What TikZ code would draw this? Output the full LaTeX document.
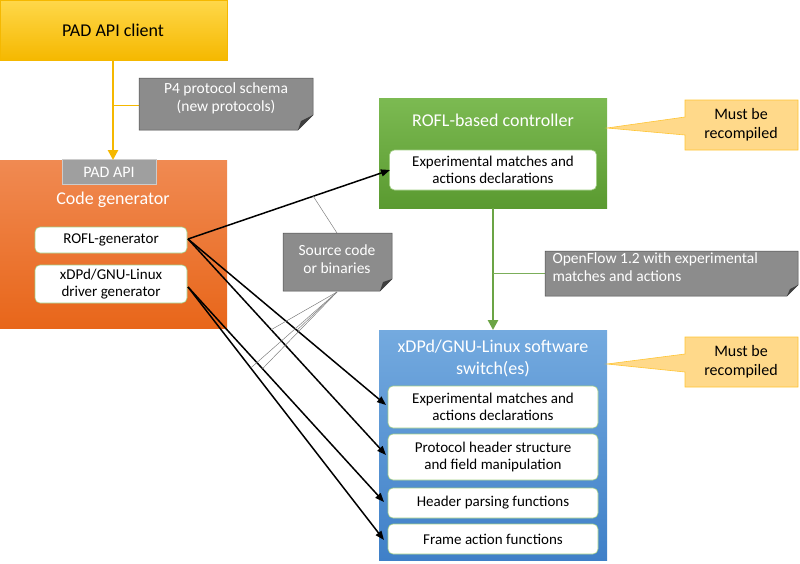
\documentclass[tikz,border=0pt]{standalone}
\usepackage{fontspec}
\setmainfont{Carlito}
\usetikzlibrary{arrows.meta,calc}
\definecolor{noteg}{HTML}{7F7F7F}
\definecolor{yt}{HTML}{FFD84A}
\definecolor{yb}{HTML}{F5B800}
\definecolor{ot}{HTML}{F08A52}
\definecolor{ob}{HTML}{E8661A}
\definecolor{gt}{HTML}{7CBA52}
\definecolor{gb}{HTML}{5A9A30}
\definecolor{bt}{HTML}{74AADF}
\definecolor{bb}{HTML}{3F80C8}
\definecolor{cf}{HTML}{FFD98A}
\definecolor{cd}{HTML}{FFC533}
\begin{document}
\begin{tikzpicture}[x=1pt,y=-1pt,
  inner/.style={draw=gt!70, line width=0.6pt, fill=white, rounded corners=5pt, align=center, font=\fontsize{15}{17.5}\selectfont, inner sep=0pt},
  note/.style={fill=noteg!90, draw=noteg!60!black, line width=0.5pt},
  notetext/.style={text=white, font=\fontsize{15.5}{18}\selectfont, align=center},
  callout/.style={fill=cf, draw=cd, line width=0.6pt},
  darr/.style={line width=1.5pt, -{Triangle[length=9pt,width=7pt]}},
  thin/.style={draw=gray, line width=0.5pt}]
\useasboundingbox (0,0) rectangle (800,563);
% PAD API client
\shade[top color=yt, bottom color=yb] (0,0) rectangle (227,60);
\draw[yb, line width=0.6pt] (0,0) rectangle (227,60);
\node (client) at (113,30) {\fontsize{18}{21}\selectfont PAD API client};
\coordinate (cl) at (113,60);
% orange box
\shade[top color=ot, bottom color=ob] (0,160) rectangle (227,328);
\node[fill=gray!75, draw=gray!40, minimum width=94, minimum height=25, text=white, font=\fontsize{16}{18}\selectfont] (padapi) at (109,172) {PAD API};
\node[text=white, font=\fontsize{18}{20}\selectfont] (codegen) at (113,200) {Code generator};
\coordinate (ct) at (113,160);
\draw[yb, line width=2.5pt, -{Triangle[length=10pt,width=10pt]}] (cl) -- (ct);
\node[inner, minimum width=152, minimum height=26] (rofl) at (111,240) {ROFL-generator};
\node[inner, minimum width=152, minimum height=38] (drv) at (111,284) {xDPd/GNU-Linux\\driver generator};
% P4 note
\draw[yb, line width=0.6pt] (113,105) -- (139,105);
\draw[note] (139,78) -- (313,78) -- (313,115) -- (298,130) -- (139,130) -- cycle;
\fill[noteg!50!black] (313,115) -- (301,121) -- (298,130) -- cycle;
\node[notetext] (p4) at (226,98) {P4 protocol schema\\(new protocols)};
% green box
\shade[top color=gt, bottom color=gb] (379,98) rectangle (607,208);
\node[text=white, font=\fontsize{18}{20}\selectfont] (ctrlt) at (493,120) {ROFL-based controller};
\node[inner, minimum width=207, minimum height=40] (ctrlin) at (493,170) {Experimental matches and\\actions declarations};
% OpenFlow arrow
\coordinate (gbt) at (493,208);
\coordinate (btp) at (493,330);
\draw[gb!90, line width=2.5pt, -{Triangle[length=10pt,width=10pt]}] (gbt) -- (btp);
\draw[gb!80, line width=0.6pt] (493,273) -- (545,273);
\draw[note] (545,251) -- (798,251) -- (798,285) -- (787,296) -- (545,296) -- cycle;
\fill[noteg!50!black] (798,285) -- (790,289) -- (787,296) -- cycle;
\node[notetext, align=left, anchor=west] (of) at (549,267) {OpenFlow 1.2 with experimental\\matches and actions};
% blue box
\shade[top color=bt, bottom color=bb] (379,330) rectangle (607,560);
\node[text=white, font=\fontsize{18}{22}\selectfont, align=center] (swt) at (493,358) {xDPd/GNU-Linux software\\switch(es)};
\node[inner, minimum width=210, minimum height=42] (b1) at (493,407) {Experimental matches and\\actions declarations};
\node[inner, minimum width=210, minimum height=46] (b2) at (493,457) {Protocol header structure\\and field manipulation};
\node[inner, minimum width=210, minimum height=30] (b3) at (493,503) {Header parsing functions};
\node[inner, minimum width=210, minimum height=30] (b4) at (493,539) {Frame action functions};
% callouts
\draw[callout] (685,100) -- (798,100) -- (798,150) -- (685,150) -- (685,135) -- (607,128) -- (685,117) -- cycle;
\node[font=\fontsize{16}{19}\selectfont, align=center] (mr1) at (741,125) {Must be\\recompiled};
\draw[callout] (685,337) -- (798,337) -- (798,387) -- (685,387) -- (685,372) -- (607,364) -- (685,354) -- cycle;
\node[font=\fontsize{16}{19}\selectfont, align=center] (mr2) at (741,362) {Must be\\recompiled};
% arrows
\coordinate (rs) at (188,239);
\coordinate (ds) at (188,287);
\coordinate (e0) at (390,170);
\coordinate (e1) at (386,405);
\coordinate (e2) at (386,455);
\coordinate (e3) at (384,502);
\coordinate (e4) at (384,540);
\draw[darr] (rs) -- (e0);
\draw[darr] (rs) -- (e1);
\draw[darr] (rs) -- (e2);
\draw[darr] (ds) -- (e3);
\draw[darr] (ds) -- (e4);
% source note
\coordinate (sn) at (337,292);
\draw[thin] ($(rs)!0.62!(e0)$) -- (337,233);
\foreach \t/\a/\b in {0.55/rs/e1,0.42/rs/e2,0.38/ds/e3,0.32/ds/e4}
  \draw[thin] (sn) -- ($(\a)!\t!(\b)$);
\draw[note] (283,233) -- (392,233) -- (392,279) -- (380,291) -- (283,291) -- cycle;
\fill[noteg!50!black] (392,279) -- (383,282) -- (380,291) -- cycle;
\node[notetext] (src) at (337,259) {Source code\\or binaries};
\end{tikzpicture}
\end{document}
